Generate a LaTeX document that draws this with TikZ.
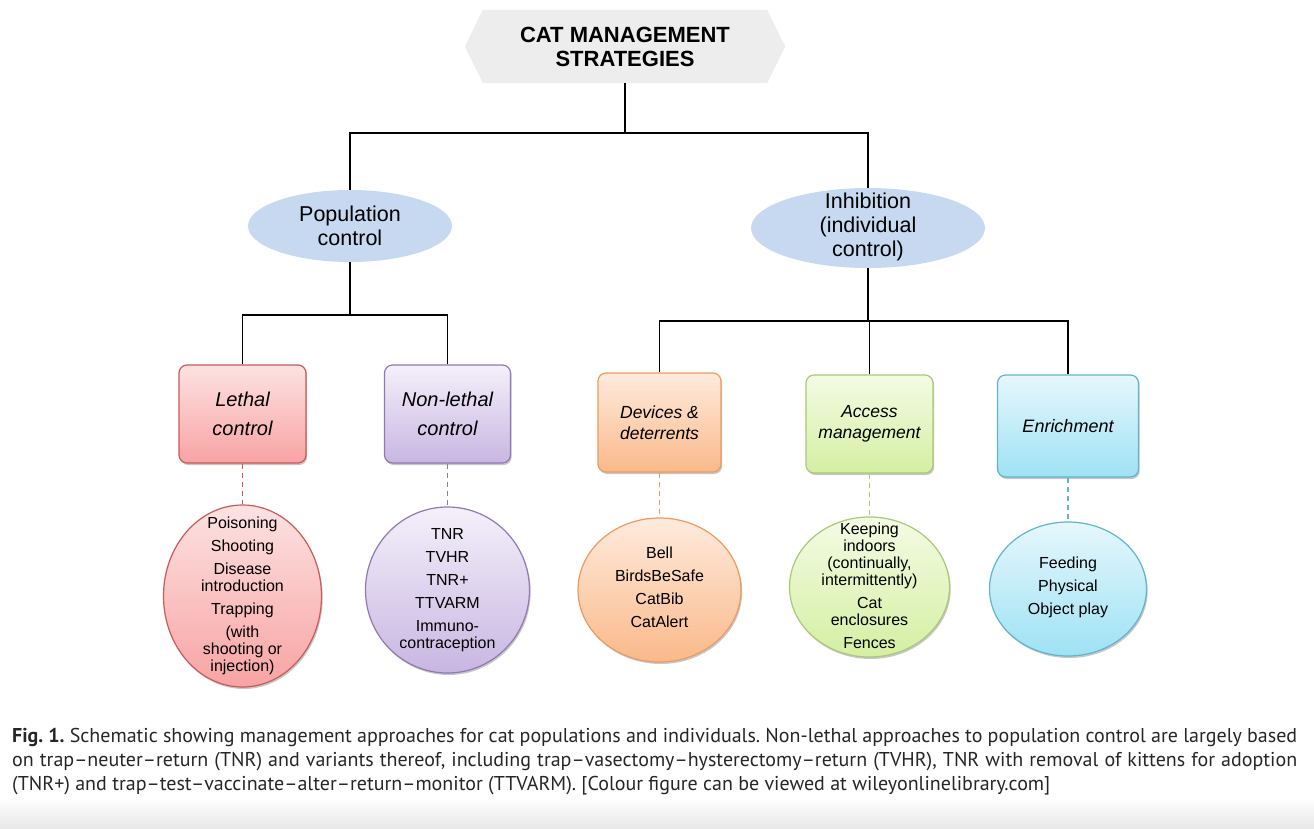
\documentclass[tikz,border=0pt]{standalone}
\usepackage{fontspec}
\setmainfont{Liberation Sans}
\newfontfamily\capfont{PT Sans}
\usetikzlibrary{shapes.geometric,shadows,backgrounds}
\definecolor{hexfill}{HTML}{EDEDED}
\definecolor{ellfill}{HTML}{C6D9F1}
\definecolor{lD}{HTML}{C95A58}\definecolor{lT}{HTML}{FDE2E2}\definecolor{lB}{HTML}{F8A3A3}
\definecolor{nD}{HTML}{8F78B4}\definecolor{nT}{HTML}{F4F0FA}\definecolor{nB}{HTML}{C8B6E2}
\definecolor{dD}{HTML}{EE9A5E}\definecolor{dT}{HTML}{FEEBDD}\definecolor{dB}{HTML}{FAB98A}
\definecolor{aD}{HTML}{A9C878}\definecolor{aT}{HTML}{F4FBE4}\definecolor{aB}{HTML}{D4EFA2}
\definecolor{eD}{HTML}{5FB5CC}\definecolor{eT}{HTML}{E6F7FC}\definecolor{eB}{HTML}{9EE2F4}
\begin{document}
\begin{tikzpicture}[x=1pt,y=-1pt,
  shd/.style={drop shadow={shadow xshift=1.2pt,shadow yshift=-2pt,opacity=0.22,fill=black}},
  catbox/.style={rounded corners=8pt,line width=1.2pt,inner sep=0pt,align=center,shd,
     font=\itshape\fontsize{17.5}{21}\selectfont},
  bigbox/.style={catbox,font=\itshape\fontsize{20}{29}\selectfont},
  circ/.style={ellipse,line width=1.2pt,inner sep=0pt,shd},
  ctext/.style={align=center,inner sep=0pt,font=\fontsize{16}{17}\selectfont},
  ell/.style={ellipse,fill=ellfill,inner sep=0pt},
  etext/.style={align=center,inner sep=0pt,font=\fontsize{21.5}{24}\selectfont},
  lcol/.style={draw=lD,top color=lT,bottom color=lB},
  ncol/.style={draw=nD,top color=nT,bottom color=nB},
  dcol/.style={draw=dD,top color=dT,bottom color=dB},
  acol/.style={draw=aD,top color=aT,bottom color=aB},
  ecol/.style={draw=eD,top color=eT,bottom color=eB},
  conn/.style={line width=1.1pt,black},
  dconn/.style={line width=1.5pt,dash pattern=on 5pt off 4pt}]
\useasboundingbox (0,0) rectangle (1314,828);
\shade[top color=white,bottom color=black!9] (0,798) rectangle (1314,828);

% top hexagon
\node[minimum width=320pt,minimum height=73pt,inner sep=0pt,align=center,
      font=\bfseries\fontsize{22}{24}\selectfont] (top) at (625,46.5) {CAT MANAGEMENT\\STRATEGIES};
\begin{scope}[on background layer]
\fill[hexfill] (top.west) -- ([xshift=18pt]top.north west) -- ([xshift=-18pt]top.north east)
   -- (top.east) -- ([xshift=-18pt]top.south east) -- ([xshift=18pt]top.south west) -- cycle;
\end{scope}

% second level
\node[ell,minimum width=204pt,minimum height=72pt] (pop) at (350,226) {};
\node[etext] (popt) at (pop) {Population\\control};
\node[ell,minimum width=234pt,minimum height=80pt] (inh) at (868,228) {};
\node[etext] (inht) at (868,226.5) {Inhibition\\(individual\\control)};

\coordinate (j1) at (625,133);
\draw[conn] (top.south) -- (j1);
\draw[conn] (pop.north) |- (j1);
\draw[conn] (inh.north) |- (j1);

% category boxes
\node[bigbox,lcol,minimum width=127pt,minimum height=98pt] (bL) at (242.5,414) {Lethal\\control};
\node[bigbox,ncol,minimum width=126pt,minimum height=98pt] (bN) at (447.5,414) {Non-lethal\\control};
\node[catbox,dcol,minimum width=123pt,minimum height=99pt] (bD) at (659.5,422.5) {Devices \&\\deterrents};
\node[catbox,acol,minimum width=127pt,minimum height=98pt] (bA) at (869.5,424) {Access\\management};
\node[catbox,ecol,minimum width=141pt,minimum height=102pt,font=\itshape\fontsize{18}{21}\selectfont] (bE) at (1068,426) {Enrichment};

\coordinate (j2) at (350,315);
\draw[conn] (pop.south) -- (j2);
\draw[conn] (bL.north) |- (j2);
\draw[conn] (bN.north) |- (j2);
\coordinate (j3) at (868,321);
\draw[conn] (inh.south) -- (j3);
\draw[conn] (bD.north) |- (j3);
\draw[conn] (bA.north) |- (j3);
\draw[conn] (bE.north) |- (j3);

% circles
\node[circ,lcol,minimum width=158pt,minimum height=182pt] (cL) at (242.5,596) {};
\node[circ,ncol,minimum width=164pt,minimum height=166pt] (cN) at (447.5,590) {};
\node[circ,dcol,minimum width=163pt,minimum height=144pt] (cD) at (659.5,590) {};
\node[circ,acol,minimum width=160pt,minimum height=140pt] (cA) at (869.5,587) {};
\node[circ,ecol,minimum width=157pt,minimum height=134pt] (cE) at (1068,589) {};

\node[ctext] (cLt) at (242.5,596) {Poisoning\\[6pt]Shooting\\[6pt]Disease\\introduction\\[6pt]Trapping\\[6pt](with\\shooting or\\injection)};
\node[ctext] (cNt) at (447.5,590) {TNR\\[6pt]TVHR\\[6pt]TNR+\\[6pt]TTVARM\\[6pt]Immuno-\\contraception};
\node[ctext] (cDt) at (659.5,587) {Bell\\[6pt]BirdsBeSafe\\[6pt]CatBib\\[6pt]CatAlert};
\node[ctext] (cAt) at (869.5,586) {Keeping\\indoors\\(continually,\\intermittently)\\[6pt]Cat\\enclosures\\[6pt]Fences};
\node[ctext] (cEt) at (1068,587.5) {Feeding\\[6pt]Physical\\[6pt]Object play};

\draw[dconn,draw=lD] (bL.south) -- (cL.north);
\draw[dconn,draw=nD] (bN.south) -- (cN.north);
\draw[dconn,draw=dD] (bD.south) -- (cD.north);
\draw[dconn,draw=aD] (bA.south) -- (cA.north);
\draw[dconn,draw=eD] (bE.south) -- (cE.north);

% caption
\node[anchor=north west,inner sep=0pt,text width=1285pt,align=justify,
      font=\capfont\frenchspacing\fontsize{20}{24}\selectfont,text=black!85] (cap) at (12,728)
 {\textbf{Fig. 1.} Schematic showing management approaches for cat populations and individuals. Non-lethal approaches to population control are largely based\linebreak
 on trap–neuter–return (TNR) and variants thereof, including trap–vasectomy–hysterectomy–return (TVHR), TNR with removal of kittens for adoption\linebreak
 (TNR+) and trap–test–vaccinate–alter–return–monitor (TTVARM). [Colour figure can be viewed at wileyonlinelibrary.com]};
\end{tikzpicture}
\end{document}
